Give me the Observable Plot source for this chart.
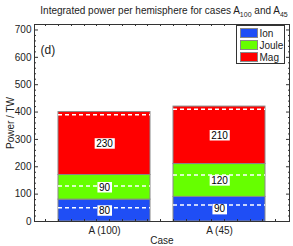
<!DOCTYPE html>
<html><head><meta charset="utf-8">
<script src="https://cdn.jsdelivr.net/npm/d3@7"></script>
<script src="https://cdn.jsdelivr.net/npm/@observablehq/plot@0.6"></script>
<style>
body{margin:0;background:#fff}
#chart svg{font-family:"Liberation Sans",Arial,sans-serif;overflow:visible}
</style>
</head><body><div id="chart"></div>
<script>
const cases = ["A (100)", "A (45)"];
const series = ["Ion", "Joule", "Mag"];
const ionValues = [80, 90];
const jouleValues = [90, 120];
const magValues = [230, 210];
// dashed reference levels (cumulative)
const dashedIon = [50, 60];
const dashedJoule = [130, 170];
const dashedMag = [390, 410];
const colors = ["#1f4ef5", "#66ff00", "#ff0000"];
const yTicks = [0, 100, 200, 300, 400, 500, 600, 700];
const yMinorTicks = d3.range(0, 721, 20).filter(v => v % 100 !== 0);
const titleMain = "Integrated power per hemisphere for cases A";
const titleSub1 = "100";
const titleMid = " and A";
const titleSub2 = "45";
const panelLabel = "(d)";

const seriesValues = [ionValues, jouleValues, magValues];
const rows = [];
series.forEach((s, i) => cases.forEach((c, j) => rows.push({case: c, series: s, value: seriesValues[i][j]})));
const dashedValues = [dashedIon, dashedJoule, dashedMag];
const dashed = [];
dashedValues.forEach(arr => cases.forEach((c, j) => dashed.push({case: c, value: arr[j]})));

const blank = () => "";
const plot = Plot.plot({
  width: 293, height: 246,
  marginLeft: 34, marginRight: 4, marginTop: 24, marginBottom: 25,
  style: {fontFamily: '"Liberation Sans", Arial, sans-serif', fontSize: "10px", color: "#222", background: "white"},
  x: {domain: cases, padding: 0.2},
  y: {domain: [0, 720]},
  color: {domain: series, range: colors},
  marks: [
    Plot.barY(rows, {x: "case", y: "value", fill: "series", stroke: "#888", strokeWidth: 1}),
    Plot.tickY(dashed, {x: "case", y: "value", stroke: "white", strokeWidth: 1.5, strokeDasharray: "4,3"}),
    Plot.text(rows, Plot.stackY({x: "case", y: "value", z: "series", text: "value", fill: "black", fontSize: 10, ariaLabel: "seglabel"})),
    Plot.frame({stroke: "#333"}),
    Plot.axisY(yTicks, {anchor: "left", tickSize: 0, tickPadding: 3, label: "Power / TW", labelAnchor: "center", labelArrow: "none", labelOffset: 28}),
    Plot.axisY(yTicks, {anchor: "left", tickSize: -4, tickFormat: blank, label: null, stroke: "#333"}),
    Plot.axisY(yMinorTicks, {anchor: "left", tickSize: -2, tickFormat: blank, label: null, stroke: "#333"}),
    Plot.axisY(yTicks, {anchor: "right", tickSize: -4, tickFormat: blank, label: null, stroke: "#333"}),
    Plot.axisY(yMinorTicks, {anchor: "right", tickSize: -2, tickFormat: blank, label: null, stroke: "#333"}),
    Plot.axisX({anchor: "bottom", tickSize: 0, tickPadding: 5, label: "Case", labelAnchor: "center", labelArrow: "none", labelOffset: 22}),
    Plot.text([panelLabel], {frameAnchor: "top-left", dx: 6, dy: 21, fontSize: 12, textAnchor: "start"})
  ]
});
document.getElementById("chart").appendChild(plot);

const svg = d3.select(plot);
// white boxes behind segment labels
const labelStrings = new Set(rows.map(d => String(d.value)));
let labelNodes = [];
plot.querySelectorAll("text").forEach(el => {
  const p = el.parentNode;
  const al = (p && p.getAttribute && p.getAttribute("aria-label")) || "";
  if (al === "seglabel") labelNodes.push(el);
});
if (labelNodes.length === 0) {
  plot.querySelectorAll("text").forEach(el => {
    const p = el.parentNode;
    const al = (p && p.getAttribute && p.getAttribute("aria-label")) || "";
    if (!al.includes("axis") && labelStrings.has(el.textContent.trim())) labelNodes.push(el);
  });
}
if (labelNodes.length) {
  const sr = plot.getBoundingClientRect();
  const grp = labelNodes[0].parentNode;
  const boxG = document.createElementNS("http://www.w3.org/2000/svg", "g");
  grp.parentNode.insertBefore(boxG, grp);
  labelNodes.forEach(el => {
    const r = el.getBoundingClientRect();
    d3.select(boxG).append("rect")
      .attr("x", r.left - sr.left - 1.5).attr("y", r.top - sr.top + 0.5)
      .attr("width", r.width + 3).attr("height", r.height - 0.5)
      .attr("fill", "white");
  });
}

// minor ticks on top and bottom frame edges, derived from the band scale
try {
  const xs = plot.scale("x"), ys = plot.scale("y");
  const [r0, r1] = xs.range;
  const start = xs.apply(cases[0]);
  const minorStep = xs.step / 9;
  const yTop = ys.apply(ys.domain[1]), yBot = ys.apply(ys.domain[0]);
  const tg = svg.append("g").attr("stroke", "#333").attr("stroke-width", 1);
  for (let k = -10; k < 40; k++) {
    const x = Math.round(start + k * minorStep) + 0.5;
    if (x <= r0 + 2 || x >= r1 - 2) continue;
    tg.append("line").attr("x1", x).attr("x2", x).attr("y1", yTop).attr("y2", yTop + 2);
    tg.append("line").attr("x1", x).attr("x2", x).attr("y1", yBot).attr("y2", yBot - 2);
  }
} catch (e) {}

// title with subscripts
const t = svg.append("text").attr("x", 164).attr("y", 14).attr("text-anchor", "middle")
  .attr("font-size", 10).attr("fill", "#222");
t.append("tspan").text(titleMain);
t.append("tspan").attr("dy", 3).attr("font-size", 7).text(titleSub1);
t.append("tspan").attr("dy", -3).text(titleMid);
t.append("tspan").attr("dy", 3).attr("font-size", 7).text(titleSub2);

// legend
const lg = svg.append("g");
lg.append("rect").attr("x", 236.5).attr("y", 25.5).attr("width", 48).attr("height", 38)
  .attr("fill", "white").attr("stroke", "#333");
series.forEach((s, i) => {
  const cy = 33 + i * 12;
  lg.append("rect").attr("x", 240.5).attr("y", cy - 4.5).attr("width", 17).attr("height", 9)
    .attr("fill", colors[i]).attr("stroke", "#888");
  lg.append("text").attr("x", 259.5).attr("y", cy).attr("dy", "0.35em").attr("font-size", 10)
    .attr("text-anchor", "start").attr("fill", "#222").text(s);
});
</script>
</body></html>
